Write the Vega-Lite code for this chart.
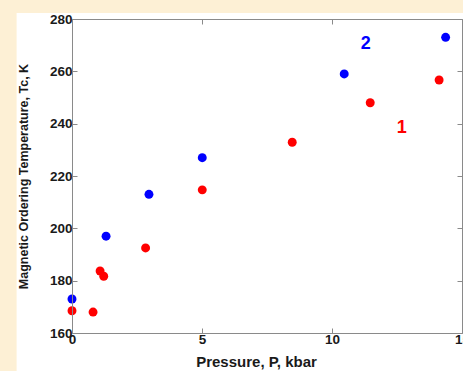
{
  "$schema": "https://vega.github.io/schema/vega-lite/v6.json",
  "autosize": "none",
  "width": 390,
  "height": 314,
  "padding": {"left": 72, "top": 19, "right": 1, "bottom": 38},
  "background": "#fdf0d5",
  "datasets": {
    "points": [
      {"P": 0, "T": 173, "series": "2"},
      {"P": 1.31, "T": 197, "series": "2"},
      {"P": 2.96, "T": 213, "series": "2"},
      {"P": 5.01, "T": 227, "series": "2"},
      {"P": 10.47, "T": 259, "series": "2"},
      {"P": 14.37, "T": 273, "series": "2"},
      {"P": 0, "T": 168.5, "series": "1"},
      {"P": 0.81, "T": 168, "series": "1"},
      {"P": 1.08, "T": 183.7, "series": "1"},
      {"P": 1.22, "T": 181.7, "series": "1"},
      {"P": 2.83, "T": 192.5, "series": "1"},
      {"P": 5.01, "T": 214.7, "series": "1"},
      {"P": 8.47, "T": 232.9, "series": "1"},
      {"P": 11.47, "T": 248, "series": "1"},
      {"P": 14.12, "T": 256.7, "series": "1"}
    ],
    "labels": [
      {"P": 11.3, "T": 270.3, "series": "2"},
      {"P": 12.68, "T": 238.5, "series": "1"}
    ]
  },
  "layer": [
    {
      "data": {"values": [{"a": 1}]},
      "mark": {"type": "rect", "color": "white", "clip": false},
      "encoding": {
        "x": {"datum": -2.13, "type": "quantitative", "axis": null},
        "x2": {"datum": 17},
        "y": {"datum": 282.3, "type": "quantitative", "axis": null},
        "y2": {"datum": 140}
      }
    },
    {
      "data": {"name": "points"},
      "mark": {"type": "point", "filled": true, "size": 80, "opacity": 1, "clip": false},
      "encoding": {
        "x": {
          "field": "P", "type": "quantitative",
          "scale": {"domain": [0, 15], "nice": false, "zero": false},
          "axis": {"orient": "bottom", "zindex": 1, "values": [0, 5, 10, 15], "title": "Pressure, P, kbar", "titleFontSize": 15, "titlePadding": 9, "titleX": 184, "labelPadding": 4, "tickSize": -5}
        },
        "y": {
          "field": "T", "type": "quantitative",
          "scale": {"domain": [160, 280], "nice": false, "zero": false},
          "axis": {"orient": "left", "zindex": 1, "values": [160, 180, 200, 220, 240, 260, 280], "title": "Magnetic Ordering Temperature, Tc, K", "titleFontSize": 12.5, "titlePadding": 19, "labelPadding": 5, "tickSize": -5}
        },
        "color": {"field": "series", "type": "nominal", "scale": {"domain": ["1", "2"], "range": ["#ff0000", "#0000ff"]}, "legend": null}
      }
    },
    {
      "data": {"name": "labels"},
      "mark": {"type": "text", "fontSize": 18, "fontWeight": "bold", "font": "Liberation Sans"},
      "encoding": {
        "x": {"field": "P", "type": "quantitative", "axis": {"orient": "top", "zindex": 1, "values": [0, 5, 10, 15], "labels": false, "title": null, "tickSize": -5}},
        "y": {"field": "T", "type": "quantitative", "axis": {"orient": "right", "zindex": 1, "values": [160, 180, 200, 220, 240, 260, 280], "labels": false, "title": null, "tickSize": -5}},
        "text": {"field": "series"},
        "color": {"field": "series", "type": "nominal", "scale": {"domain": ["1", "2"], "range": ["#ff0000", "#0000ff"]}, "legend": null}
      }
    }
  ],
  "resolve": {"axis": {"x": "independent", "y": "independent"}},
  "config": {
    "font": "Liberation Sans",
    "view": {"stroke": null, "fill": "white"},
    "axis": {
      "grid": false,
      "labelFlush": false,
      "domainColor": "#8a8a8a",
      "tickColor": "#8a8a8a",
      "labelColor": "#1a1a1a",
      "labelFont": "Liberation Sans",
      "labelFontWeight": "bold",
      "labelFontSize": 13.5,
      "titleFont": "Liberation Sans",
      "titleFontWeight": "bold",
      "titleColor": "#1a1a1a"
    }
  }
}
